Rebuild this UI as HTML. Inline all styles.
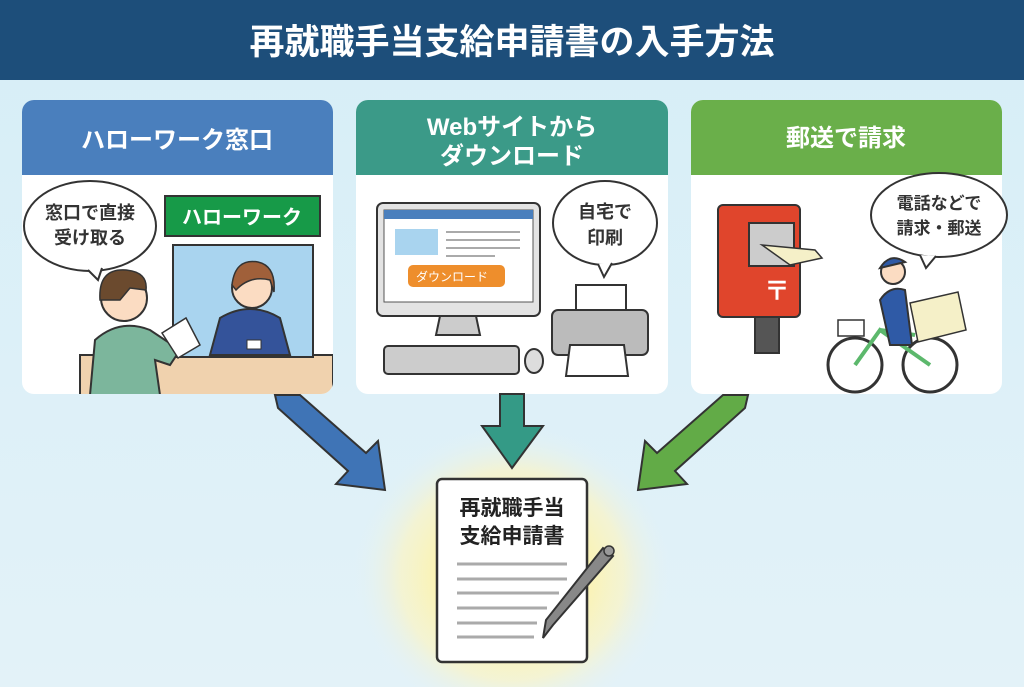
<!DOCTYPE html>
<html><head><meta charset="utf-8"><style>
body{margin:0;width:1024px;height:687px;overflow:hidden;font-family:"Liberation Sans","Noto Sans CJK JP",sans-serif;}
</style></head><body>
<svg width="1024" height="687" viewBox="0 0 1024 687" xmlns="http://www.w3.org/2000/svg" font-family="Liberation Sans, Noto Sans CJK JP, sans-serif">
<defs>
<linearGradient id="bg" x1="0" y1="0" x2="0" y2="1"><stop offset="0" stop-color="#d6eef7"/><stop offset="1" stop-color="#e3f2f8"/></linearGradient>
<radialGradient id="glow" cx="0.5" cy="0.5" r="0.5"><stop offset="0.35" stop-color="#fff3a0"/><stop offset="0.7" stop-color="#fbf4c4" stop-opacity="0.7"/><stop offset="1" stop-color="#e3f2f8" stop-opacity="0"/></radialGradient>
<clipPath id="c1"><rect x="22" y="100" width="311" height="294" rx="12"/></clipPath>
<clipPath id="c2"><rect x="356" y="100" width="312" height="294" rx="12"/></clipPath>
<clipPath id="c3"><rect x="691" y="100" width="311" height="294" rx="12"/></clipPath>
</defs>
<rect width="1024" height="687" fill="url(#bg)"/>
<ellipse cx="512" cy="575" rx="160" ry="150" fill="url(#glow)"/>
<rect width="1024" height="80" fill="#1d4e7a"/>
<text x="512" y="54" text-anchor="middle" font-size="35" font-weight="bold" fill="#fff">再就職手当支給申請書の入手方法</text>

<!-- panel 1 -->
<g clip-path="url(#c1)">
<rect x="22" y="100" width="311" height="294" fill="#fff"/>
<rect x="22" y="100" width="311" height="75" fill="#4a7fbd"/>
<rect x="80" y="355" width="253" height="40" fill="#f0d2ae" stroke="#333" stroke-width="2"/>
<rect x="173" y="245" width="140" height="112" fill="#a9d4ef" stroke="#333" stroke-width="2"/>
<rect x="165" y="196" width="155" height="40" fill="#179a48" stroke="#333" stroke-width="2"/>
<text x="242" y="224" text-anchor="middle" font-size="20" font-weight="bold" fill="#fff">ハローワーク</text>
<path d="M210 355 L220 318 Q250 300 280 318 L290 355 Z" fill="#34539a" stroke="#333" stroke-width="2"/>
<circle cx="252" cy="288" r="20" fill="#fbdcc2" stroke="#333" stroke-width="2"/>
<path d="M232 285 Q235 258 258 262 Q276 266 274 292 L270 280 Q250 275 236 290 Z" fill="#a0603a" stroke="#333" stroke-width="1.5"/>
<rect x="247" y="340" width="14" height="9" fill="#fff" stroke="#333"/>
<path d="M90 395 L95 340 Q120 318 150 330 L180 350 L170 365 L155 360 L160 395 Z" fill="#7cb69c" stroke="#333" stroke-width="2"/>
<circle cx="124" cy="298" r="23" fill="#fbdcc2" stroke="#333" stroke-width="2"/>
<path d="M100 300 Q98 268 126 270 Q148 272 146 290 L130 288 L120 300 Z" fill="#6b4a2e" stroke="#333" stroke-width="1.5"/>
<path d="M162 333 L186 318 L200 345 L178 358 Z" fill="#fff" stroke="#333" stroke-width="1.5"/>
<ellipse cx="90" cy="226" rx="66" ry="45" fill="#fff" stroke="#333" stroke-width="2"/>
<path d="M88 270 L98 280 L102 268" fill="#fff" stroke="#333" stroke-width="2"/>
<text x="90" y="219" text-anchor="middle" font-size="18" font-weight="bold" fill="#333">窓口で直接</text>
<text x="90" y="244" text-anchor="middle" font-size="18" font-weight="bold" fill="#333">受け取る</text>
</g>
<text x="177" y="148" text-anchor="middle" font-size="24" font-weight="bold" fill="#fff">ハローワーク窓口</text>

<!-- panel 2 -->
<g clip-path="url(#c2)">
<rect x="356" y="100" width="312" height="294" fill="#fff"/>
<rect x="356" y="100" width="312" height="75" fill="#3b9a88"/>
<rect x="377" y="203" width="163" height="113" rx="6" fill="#e3e3e3" stroke="#333" stroke-width="2"/>
<rect x="384" y="210" width="149" height="92" fill="#fff" stroke="#555"/>
<rect x="384" y="210" width="149" height="9" fill="#4a7fbd"/>
<rect x="395" y="229" width="43" height="26" fill="#a9d4ef"/>
<g stroke="#aaa" stroke-width="2"><line x1="446" y1="232" x2="520" y2="232"/><line x1="446" y1="240" x2="520" y2="240"/><line x1="446" y1="248" x2="520" y2="248"/><line x1="446" y1="256" x2="495" y2="256"/></g>
<rect x="408" y="265" width="97" height="22" rx="5" fill="#ee8e2c"/>
<text x="452" y="281" text-anchor="middle" font-size="12" fill="#fff">ダウンロード</text>
<path d="M440 316 L436 335 L480 335 L476 316 Z" fill="#ccc" stroke="#333" stroke-width="2"/>
<rect x="384" y="346" width="135" height="28" rx="4" fill="#ccc" stroke="#333" stroke-width="2"/>
<ellipse cx="534" cy="361" rx="9" ry="12" fill="#ddd" stroke="#333" stroke-width="2"/>
<rect x="576" y="285" width="50" height="30" fill="#fff" stroke="#333" stroke-width="2"/>
<rect x="552" y="310" width="96" height="45" rx="6" fill="#bbb" stroke="#333" stroke-width="2"/>
<path d="M570 345 L566 376 L628 376 L624 345 Z" fill="#fff" stroke="#333" stroke-width="2"/>
<ellipse cx="605" cy="223" rx="52" ry="42" fill="#fff" stroke="#333" stroke-width="2"/>
<path d="M598 264 L604 277 L612 263" fill="#fff" stroke="#333" stroke-width="2"/>
<text x="605" y="218" text-anchor="middle" font-size="18" font-weight="bold" fill="#333">自宅で</text>
<text x="605" y="244" text-anchor="middle" font-size="18" font-weight="bold" fill="#333">印刷</text>
</g>
<text x="512" y="135" text-anchor="middle" font-size="24" font-weight="bold" fill="#fff">Webサイトから</text>
<text x="512" y="164" text-anchor="middle" font-size="24" font-weight="bold" fill="#fff">ダウンロード</text>

<!-- panel 3 -->
<g clip-path="url(#c3)">
<rect x="691" y="100" width="311" height="294" fill="#fff"/>
<rect x="691" y="100" width="311" height="75" fill="#6aaf4a"/>
<rect x="755" y="315" width="24" height="38" fill="#555" stroke="#333" stroke-width="2"/>
<rect x="718" y="205" width="82" height="112" rx="5" fill="#e0452c" stroke="#333" stroke-width="2"/>
<rect x="749" y="223" width="45" height="43" fill="#ccc" stroke="#333" stroke-width="2"/>
<path d="M762 245 L815 250 L822 258 L790 265 Z" fill="#f5f0c8" stroke="#333" stroke-width="1.5"/>
<text x="777" y="300" text-anchor="middle" font-size="26" font-weight="bold" fill="#fff">〒</text>
<rect x="838" y="320" width="26" height="16" fill="#fff" stroke="#333" stroke-width="1.5"/>
<circle cx="855" cy="365" r="27" fill="none" stroke="#333" stroke-width="3"/>
<circle cx="930" cy="365" r="27" fill="none" stroke="#333" stroke-width="3"/>
<path d="M855 365 L880 330 L930 365 M880 330 L915 335" fill="none" stroke="#5cb86c" stroke-width="4"/>
<path d="M880 300 Q890 285 905 290 L912 345 L890 345 Z" fill="#2f5aa6" stroke="#333" stroke-width="2"/>
<circle cx="893" cy="272" r="12" fill="#fbdcc2" stroke="#333" stroke-width="2"/>
<path d="M880 268 Q890 252 905 262 Z" fill="#2f5aa6" stroke="#333" stroke-width="2"/>
<path d="M910 303 L958 292 L966 330 L918 342 Z" fill="#f5f0c8" stroke="#333" stroke-width="1.5"/>
</g>
<ellipse cx="939" cy="215" rx="68" ry="42" fill="#fff" stroke="#333" stroke-width="2"/>
<path d="M920 255 L926 268 L936 256" fill="#fff" stroke="#333" stroke-width="2"/>
<text x="939" y="209" text-anchor="middle" font-size="17" font-weight="bold" fill="#333">電話などで</text>
<text x="939" y="234" text-anchor="middle" font-size="17" font-weight="bold" fill="#333">請求・郵送</text>
<text x="846" y="146" text-anchor="middle" font-size="24" font-weight="bold" fill="#fff">郵送で請求</text>

<!-- arrows -->
<path d="M275 395 L300 395 L366 453 L378 441 L385 490 L336 484 L348 471 L278 408 Z" fill="#3f74b6" stroke="#333" stroke-width="2"/>
<path d="M500 394 L524 394 L524 426 L543 426 L512 468 L482 426 L500 426 Z" fill="#349a86" stroke="#333" stroke-width="2"/>
<path d="M748 395 L723 395 L657 453 L645 441 L638 490 L687 484 L675 471 L745 408 Z" fill="#62ab47" stroke="#333" stroke-width="2"/>

<!-- document -->
<rect x="437" y="479" width="150" height="183" rx="5" fill="#fff" stroke="#333" stroke-width="2.5"/>
<text x="512" y="515" text-anchor="middle" font-size="21" font-weight="bold" fill="#222">再就職手当</text>
<text x="512" y="543" text-anchor="middle" font-size="21" font-weight="bold" fill="#222">支給申請書</text>
<g stroke="#aaa" stroke-width="3"><line x1="457" y1="564" x2="567" y2="564"/><line x1="457" y1="579" x2="567" y2="579"/><line x1="457" y1="593" x2="559" y2="593"/><line x1="457" y1="608" x2="547" y2="608"/><line x1="457" y1="623" x2="537" y2="623"/><line x1="457" y1="637" x2="534" y2="637"/></g>
<path d="M603 548 L613 556 L553 625 L543 638 L546 620 Z" fill="#888" stroke="#333" stroke-width="2"/>
<circle cx="609" cy="551" r="5" fill="#999" stroke="#333" stroke-width="1.5"/>
</svg>
</body></html>
